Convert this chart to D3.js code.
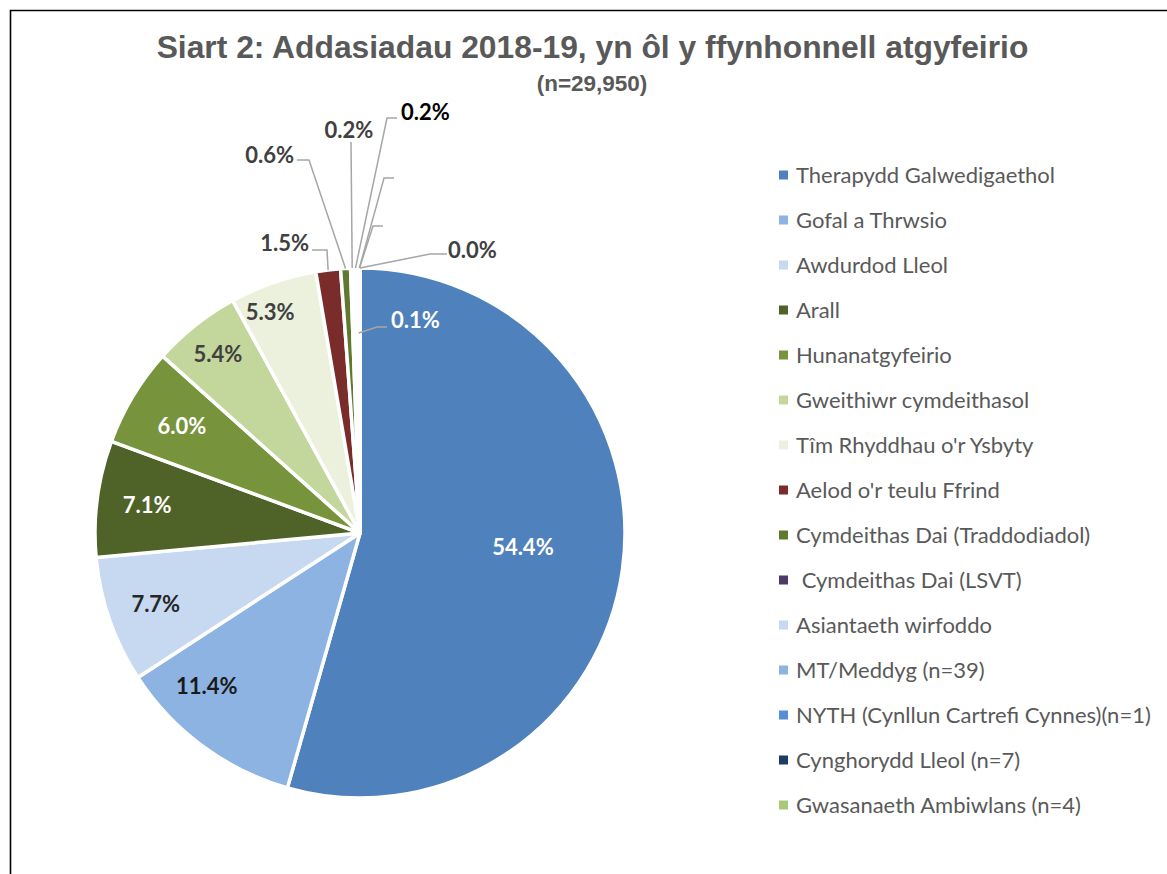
<!DOCTYPE html>
<html>
<head>
<meta charset="utf-8">
<script src="https://cdn.jsdelivr.net/npm/d3@7"></script>
<style>
  body { margin: 0; background: #fff; }
  svg { display: block; }
</style>
</head>
<body>
<div id="container"></div>
<script>
// Siart 2: Addasiadau 2018-19, yn ôl y ffynhonnell atgyfeirio

//### DATA ###
const categories = [
  'Therapydd Galwedigaethol',
  'Gofal a Thrwsio',
  'Awdurdod Lleol',
  'Arall',
  'Hunanatgyfeirio',
  'Gweithiwr cymdeithasol',
  "Tîm Rhyddhau o'r Ysbyty",
  "Aelod o'r teulu Ffrind",
  'Cymdeithas Dai (Traddodiadol)',
  ' Cymdeithas Dai (LSVT)',
  'Asiantaeth wirfoddo',
  'MT/Meddyg (n=39)',
  'NYTH (Cynllun Cartrefi Cynnes)(n=1)',
  'Cynghorydd Lleol (n=7)',
  'Gwasanaeth Ambiwlans (n=4)'
];
// share of referrals, percent
const shares = [54.4, 11.4, 7.7, 7.1, 6.0, 5.4, 5.3, 1.5, 0.6, 0.2, 0.2, 0.13, 0.003, 0.023, 0.013];
// data labels that were removed in the original
const hiddenLabels = [12, 13];

const colors = [
  '#4f81bd', '#8db3e2', '#c6d9f0', '#4f6228', '#77933c', '#c3d69b', '#ebf1dd',
  '#7a2c2b', '#5f7a2e', '#4b3b66', '#c6d9f0', '#8db3e2', '#558ed5', '#1f3c64', '#a9c97a'
];

const titleText = 'Siart 2: Addasiadau 2018-19, yn ôl y ffynhonnell atgyfeirio';
const subtitleText = '(n=29,950)';

//### LAYOUT ###
const width = 1167;
const height = 874;
const cx = 360;
const cy = 533;
const radius = 265;
const labelSize = '22px';

//>>> labels inside the pie: [radius fraction, angle shift (deg), colour]
const insideLabels = {
  0: [0.617, -3, '#ffffff'],
  1: [0.817, 8.6, '#1a1a1a'],
  2: [0.816, 0, '#262626'],
  3: [0.81, 0, '#ffffff'],
  4: [0.785, 0, '#ffffff'],
  5: [0.863, 0, '#404040'],
  6: [0.9, -3, '#404040']
};

//>>> callouts for the thin slices (offsets from the pie centre)
const callouts = {
  7:  { start: 1, elbow: [-33, -283], end: [-48, -283], text: [-51, -290], anchor: 'end', color: '#404040' },
  8:  { start: 1, elbow: [-51, -373], end: [-63, -373], text: [-66, -378], anchor: 'end', color: '#404040' },
  9:  { start: 1, elbow: [-9, -391], end: [-9, -391], text: [-11, -403], anchor: 'middle', color: '#404040' },
  10: { start: 1, elbow: [27, -415], end: [37, -415], text: [41, -421], anchor: 'start', color: '#000000' },
  11: { start: 0.755, elbow: [17, -206], end: [27, -206], text: [31, -213], anchor: 'start', color: '#ffffff' },
  12: { start: 1, elbow: [24, -355], end: [34, -355], text: [38, -360], anchor: 'start', color: '#404040' },
  13: { start: 1, elbow: [13, -307], end: [23, -307], text: [27, -312], anchor: 'start', color: '#404040' },
  14: { start: 1, elbow: [70, -279], end: [87, -279], text: [88, -283], anchor: 'start', color: '#404040' }
};

const fmt = v => d3.format('.1f')(v) + '%';

//_____ SVG _____
const svg = d3.select('#container')
  .append('svg')
  .attr('width', width)
  .attr('height', height)
  .style('font-family', 'Lato, "Open Sans", sans-serif');

//>>> chart frame (cropped on the right and bottom)
svg.append('path')
  .attr('d', `M10.5,${height} V10.5 H${width}`)
  .attr('fill', 'none')
  .attr('stroke', '#000')
  .attr('stroke-width', 1.6);

//_____ TITLE _____
svg.append('text')
  .attr('x', 592.5)
  .attr('y', 58)
  .attr('text-anchor', 'middle')
  .style('font-family', '"Liberation Sans", Arial, sans-serif')
  .style('font-weight', 'bold')
  .style('font-size', '31.8px')
  .style('fill', '#595959')
  .text(titleText);

svg.append('text')
  .attr('x', 592)
  .attr('y', 91)
  .attr('text-anchor', 'middle')
  .style('font-family', '"Liberation Sans", Arial, sans-serif')
  .style('font-weight', 'bold')
  .style('font-size', '22.5px')
  .style('fill', '#595959')
  .text(subtitleText);

//_____ PIE _____
const pie = d3.pie().sort(null).value(d => d);
const arcs = pie(shares);
const arc = d3.arc().innerRadius(0).outerRadius(radius);

const g = svg.append('g').attr('transform', `translate(${cx},${cy})`);

g.selectAll('path.slice')
  .data(arcs)
  .enter()
  .append('path')
  .attr('class', 'slice')
  .attr('d', arc)
  .attr('fill', (d, i) => colors[i])
  .attr('stroke', '#fff')
  .attr('stroke-width', 3.5)
  .attr('stroke-linejoin', 'round');

const midAngle = d => (d.startAngle + d.endAngle) / 2;

//>>> labels inside the big slices
g.selectAll('text.inside')
  .data(arcs.filter(d => insideLabels[d.index]))
  .enter()
  .append('text')
  .attr('class', 'inside')
  .attr('transform', d => {
    const [f, shift] = insideLabels[d.index];
    const a = midAngle(d) + shift * Math.PI / 180;
    return `translate(${Math.sin(a) * radius * f},${-Math.cos(a) * radius * f})`;
  })
  .attr('text-anchor', 'middle')
  .attr('dy', '0.36em')
  .style('font-weight', 'bold')
  .style('font-size', labelSize)
  .style('fill', d => insideLabels[d.index][2])
  .text(d => fmt(d.value));

//>>> leader lines for the thin slices
const small = arcs.filter(d => callouts[d.index]);

g.selectAll('polyline.leader')
  .data(small)
  .enter()
  .append('polyline')
  .attr('class', 'leader')
  .attr('points', d => {
    const c = callouts[d.index];
    const a = midAngle(d);
    const r = radius * c.start;
    return [[Math.sin(a) * r, -Math.cos(a) * r], c.elbow, c.end].map(p => p.join(',')).join(' ');
  })
  .attr('fill', 'none')
  .attr('stroke', '#a6a6a6')
  .attr('stroke-width', 1.5);

g.selectAll('text.callout')
  .data(small.filter(d => !hiddenLabels.includes(d.index)))
  .enter()
  .append('text')
  .attr('class', 'callout')
  .attr('x', d => callouts[d.index].text[0])
  .attr('y', d => callouts[d.index].text[1])
  .attr('dy', '0.36em')
  .attr('text-anchor', d => callouts[d.index].anchor)
  .style('font-weight', 'bold')
  .style('font-size', labelSize)
  .style('fill', d => callouts[d.index].color)
  .text(d => fmt(d.value));

//_____ LEGEND _____
const legendY = d3.scalePoint()
  .domain(d3.range(categories.length))
  .range([175, 805]);

const legend = svg.append('g').attr('id', 'legend');

const item = legend.selectAll('g')
  .data(categories)
  .enter()
  .append('g')
  .attr('transform', (d, i) => `translate(779,${legendY(i)})`);

item.append('rect')
  .attr('x', 0)
  .attr('y', -4.5)
  .attr('width', 9)
  .attr('height', 9)
  .attr('fill', (d, i) => colors[i]);

item.append('text')
  .attr('x', 17)
  .attr('dy', '0.36em')
  .attr('xml:space', 'preserve')
  .style('white-space', 'pre')
  .style('font-size', '22px')
  .style('fill', '#595959')
  .text(d => d);
</script>
</body>
</html>
